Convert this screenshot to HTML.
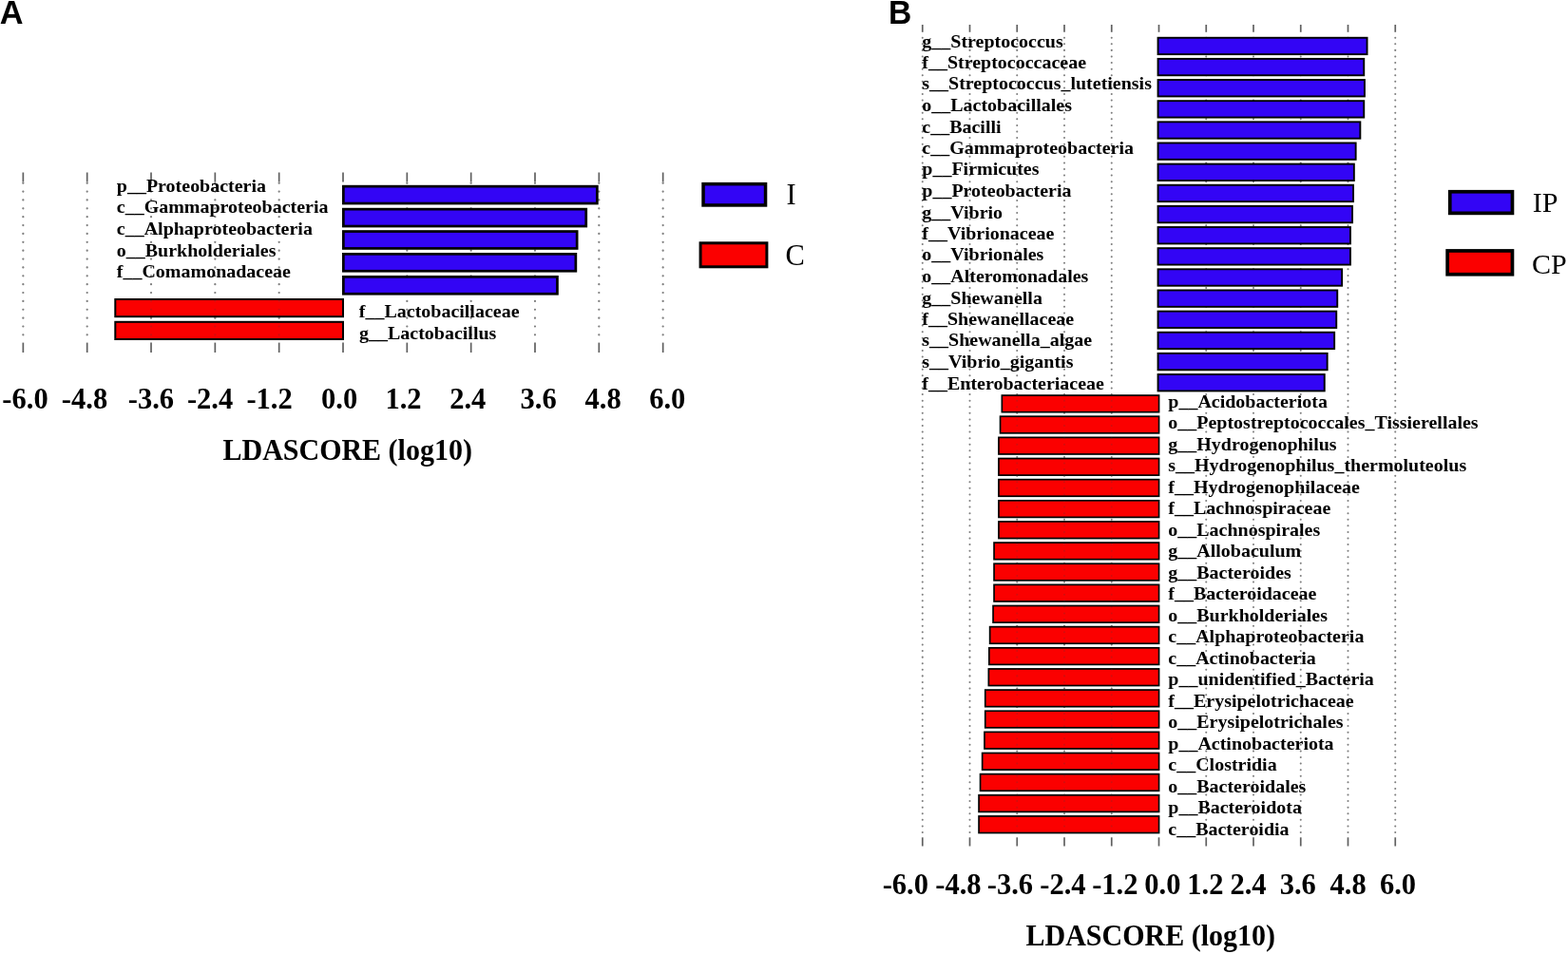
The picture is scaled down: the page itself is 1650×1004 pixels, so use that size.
<!DOCTYPE html>
<html lang="en">
<head>
<meta charset="utf-8">
<title>LEfSe LDA score</title>
<style>
html,body{margin:0;padding:0;background:#fff;}
body{width:1650px;height:1004px;overflow:hidden;font-family:"Liberation Serif",serif;}
svg{display:block;}
text{fill:#000;white-space:pre;}
</style>
</head>
<body>
<svg width="1650" height="1004" viewBox="0 0 1650 1004">
<rect x="0" y="0" width="1650" height="1004" fill="#ffffff"/>
<line x1="24.35" y1="181.5" x2="24.35" y2="191.5" stroke="#606060" stroke-width="1.7"/>
<line x1="24.35" y1="360.6" x2="24.35" y2="371.0" stroke="#606060" stroke-width="1.7"/>
<line x1="24.35" y1="192.70" x2="24.35" y2="359.6" stroke="#929292" stroke-width="2.2" stroke-linecap="round" stroke-dasharray="0.01 8.860"/>
<line x1="91.68" y1="181.5" x2="91.68" y2="191.5" stroke="#606060" stroke-width="1.7"/>
<line x1="91.68" y1="360.6" x2="91.68" y2="371.0" stroke="#606060" stroke-width="1.7"/>
<line x1="91.68" y1="192.70" x2="91.68" y2="359.6" stroke="#929292" stroke-width="2.2" stroke-linecap="round" stroke-dasharray="0.01 8.860"/>
<line x1="159.01" y1="181.5" x2="159.01" y2="191.5" stroke="#606060" stroke-width="1.7"/>
<line x1="159.01" y1="360.6" x2="159.01" y2="371.0" stroke="#606060" stroke-width="1.7"/>
<line x1="159.01" y1="192.70" x2="159.01" y2="359.6" stroke="#929292" stroke-width="2.2" stroke-linecap="round" stroke-dasharray="0.01 8.860"/>
<line x1="226.34" y1="181.5" x2="226.34" y2="191.5" stroke="#606060" stroke-width="1.7"/>
<line x1="226.34" y1="360.6" x2="226.34" y2="371.0" stroke="#606060" stroke-width="1.7"/>
<line x1="226.34" y1="192.70" x2="226.34" y2="359.6" stroke="#929292" stroke-width="2.2" stroke-linecap="round" stroke-dasharray="0.01 8.860"/>
<line x1="293.67" y1="181.5" x2="293.67" y2="191.5" stroke="#606060" stroke-width="1.7"/>
<line x1="293.67" y1="360.6" x2="293.67" y2="371.0" stroke="#606060" stroke-width="1.7"/>
<line x1="293.67" y1="192.70" x2="293.67" y2="359.6" stroke="#929292" stroke-width="2.2" stroke-linecap="round" stroke-dasharray="0.01 8.860"/>
<line x1="361.00" y1="181.5" x2="361.00" y2="191.5" stroke="#606060" stroke-width="1.7"/>
<line x1="361.00" y1="360.6" x2="361.00" y2="371.0" stroke="#606060" stroke-width="1.7"/>
<line x1="428.33" y1="181.5" x2="428.33" y2="191.5" stroke="#606060" stroke-width="1.7"/>
<line x1="428.33" y1="360.6" x2="428.33" y2="371.0" stroke="#606060" stroke-width="1.7"/>
<line x1="428.33" y1="192.70" x2="428.33" y2="359.6" stroke="#929292" stroke-width="2.2" stroke-linecap="round" stroke-dasharray="0.01 8.860"/>
<line x1="495.66" y1="181.5" x2="495.66" y2="191.5" stroke="#606060" stroke-width="1.7"/>
<line x1="495.66" y1="360.6" x2="495.66" y2="371.0" stroke="#606060" stroke-width="1.7"/>
<line x1="495.66" y1="192.70" x2="495.66" y2="359.6" stroke="#929292" stroke-width="2.2" stroke-linecap="round" stroke-dasharray="0.01 8.860"/>
<line x1="562.99" y1="181.5" x2="562.99" y2="191.5" stroke="#606060" stroke-width="1.7"/>
<line x1="562.99" y1="360.6" x2="562.99" y2="371.0" stroke="#606060" stroke-width="1.7"/>
<line x1="562.99" y1="192.70" x2="562.99" y2="359.6" stroke="#929292" stroke-width="2.2" stroke-linecap="round" stroke-dasharray="0.01 8.860"/>
<line x1="630.32" y1="181.5" x2="630.32" y2="191.5" stroke="#606060" stroke-width="1.7"/>
<line x1="630.32" y1="360.6" x2="630.32" y2="371.0" stroke="#606060" stroke-width="1.7"/>
<line x1="630.32" y1="192.70" x2="630.32" y2="359.6" stroke="#929292" stroke-width="2.2" stroke-linecap="round" stroke-dasharray="0.01 8.860"/>
<line x1="697.65" y1="181.5" x2="697.65" y2="191.5" stroke="#606060" stroke-width="1.7"/>
<line x1="697.65" y1="360.6" x2="697.65" y2="371.0" stroke="#606060" stroke-width="1.7"/>
<line x1="697.65" y1="192.70" x2="697.65" y2="359.6" stroke="#929292" stroke-width="2.2" stroke-linecap="round" stroke-dasharray="0.01 8.860"/>
<rect x="121.30" y="315.00" width="239.70" height="18.20" fill="#fb0000" stroke="#000" stroke-width="2.0"/>
<rect x="121.30" y="338.80" width="239.70" height="18.20" fill="#fb0000" stroke="#000" stroke-width="2.0"/>
<g opacity="0.22">
<line x1="24.35" y1="192.70" x2="24.35" y2="359.6" stroke="#404040" stroke-width="2.2" stroke-linecap="round" stroke-dasharray="0.01 8.860"/>
<line x1="91.68" y1="192.70" x2="91.68" y2="359.6" stroke="#404040" stroke-width="2.2" stroke-linecap="round" stroke-dasharray="0.01 8.860"/>
<line x1="159.01" y1="192.70" x2="159.01" y2="359.6" stroke="#404040" stroke-width="2.2" stroke-linecap="round" stroke-dasharray="0.01 8.860"/>
<line x1="226.34" y1="192.70" x2="226.34" y2="359.6" stroke="#404040" stroke-width="2.2" stroke-linecap="round" stroke-dasharray="0.01 8.860"/>
<line x1="293.67" y1="192.70" x2="293.67" y2="359.6" stroke="#404040" stroke-width="2.2" stroke-linecap="round" stroke-dasharray="0.01 8.860"/>
<line x1="428.33" y1="192.70" x2="428.33" y2="359.6" stroke="#404040" stroke-width="2.2" stroke-linecap="round" stroke-dasharray="0.01 8.860"/>
<line x1="495.66" y1="192.70" x2="495.66" y2="359.6" stroke="#404040" stroke-width="2.2" stroke-linecap="round" stroke-dasharray="0.01 8.860"/>
<line x1="562.99" y1="192.70" x2="562.99" y2="359.6" stroke="#404040" stroke-width="2.2" stroke-linecap="round" stroke-dasharray="0.01 8.860"/>
<line x1="630.32" y1="192.70" x2="630.32" y2="359.6" stroke="#404040" stroke-width="2.2" stroke-linecap="round" stroke-dasharray="0.01 8.860"/>
<line x1="697.65" y1="192.70" x2="697.65" y2="359.6" stroke="#404040" stroke-width="2.2" stroke-linecap="round" stroke-dasharray="0.01 8.860"/>
</g>
<rect x="361.35" y="196.15" width="267.00" height="17.90" fill="#3305f5" stroke="#000" stroke-width="2.7"/>
<rect x="361.35" y="220.15" width="255.40" height="17.90" fill="#3305f5" stroke="#000" stroke-width="2.7"/>
<rect x="361.35" y="243.55" width="245.80" height="17.90" fill="#3305f5" stroke="#000" stroke-width="2.7"/>
<rect x="361.35" y="267.35" width="244.50" height="17.90" fill="#3305f5" stroke="#000" stroke-width="2.7"/>
<rect x="361.35" y="291.35" width="225.10" height="17.90" fill="#3305f5" stroke="#000" stroke-width="2.7"/>
<text transform="translate(122.80,202.00) scale(1.0,0.93)" font-family="'Liberation Serif', serif" font-size="20" font-weight="bold" text-anchor="start">p__Proteobacteria</text>
<text transform="translate(122.80,224.30) scale(1.0,0.93)" font-family="'Liberation Serif', serif" font-size="20" font-weight="bold" text-anchor="start">c__Gammaproteobacteria</text>
<text transform="translate(122.80,246.80) scale(1.0,0.93)" font-family="'Liberation Serif', serif" font-size="20" font-weight="bold" text-anchor="start">c__Alphaproteobacteria</text>
<text transform="translate(122.80,269.50) scale(1.0,0.93)" font-family="'Liberation Serif', serif" font-size="20" font-weight="bold" text-anchor="start">o__Burkholderiales</text>
<text transform="translate(122.80,292.20) scale(1.0,0.93)" font-family="'Liberation Serif', serif" font-size="20" font-weight="bold" text-anchor="start">f__Comamonadaceae</text>
<text transform="translate(377.80,334.00) scale(1.0,0.93)" font-family="'Liberation Serif', serif" font-size="20" font-weight="bold" text-anchor="start">f__Lactobacillaceae</text>
<text transform="translate(378.00,356.50) scale(1.0,0.93)" font-family="'Liberation Serif', serif" font-size="20" font-weight="bold" text-anchor="start">g__Lactobacillus</text>
<text transform="translate(26.50,429.70) scale(0.985,1.0)" font-family="'Liberation Serif', serif" font-size="31" font-weight="bold" text-anchor="middle">-6.0</text>
<text transform="translate(89.00,429.70) scale(0.985,1.0)" font-family="'Liberation Serif', serif" font-size="31" font-weight="bold" text-anchor="middle">-4.8</text>
<text transform="translate(158.90,429.70) scale(0.985,1.0)" font-family="'Liberation Serif', serif" font-size="31" font-weight="bold" text-anchor="middle">-3.6</text>
<text transform="translate(221.10,429.70) scale(0.985,1.0)" font-family="'Liberation Serif', serif" font-size="31" font-weight="bold" text-anchor="middle">-2.4</text>
<text transform="translate(283.60,429.70) scale(0.985,1.0)" font-family="'Liberation Serif', serif" font-size="31" font-weight="bold" text-anchor="middle">-1.2</text>
<text transform="translate(357.15,429.70) scale(0.985,1.0)" font-family="'Liberation Serif', serif" font-size="31" font-weight="bold" text-anchor="middle">0.0</text>
<text transform="translate(424.50,429.70) scale(0.985,1.0)" font-family="'Liberation Serif', serif" font-size="31" font-weight="bold" text-anchor="middle">1.2</text>
<text transform="translate(492.20,429.70) scale(0.985,1.0)" font-family="'Liberation Serif', serif" font-size="31" font-weight="bold" text-anchor="middle">2.4</text>
<text transform="translate(566.65,429.70) scale(0.985,1.0)" font-family="'Liberation Serif', serif" font-size="31" font-weight="bold" text-anchor="middle">3.6</text>
<text transform="translate(634.60,429.70) scale(0.985,1.0)" font-family="'Liberation Serif', serif" font-size="31" font-weight="bold" text-anchor="middle">4.8</text>
<text transform="translate(702.20,429.70) scale(0.985,1.0)" font-family="'Liberation Serif', serif" font-size="31" font-weight="bold" text-anchor="middle">6.0</text>
<text transform="translate(365.70,484.00) scale(1.0,1.03)" font-family="'Liberation Serif', serif" font-size="30" font-weight="bold" text-anchor="middle">LDASCORE (log10)</text>
<rect x="740.05" y="193.65" width="65.50" height="22.30" fill="#3305f5" stroke="#000" stroke-width="3.5"/>
<rect x="737.10" y="255.80" width="69.80" height="25.00" fill="#fb0000" stroke="#000" stroke-width="3.0"/>
<text transform="translate(827.50,214.80)" font-family="'Liberation Serif', serif" font-size="30.5" font-weight="normal" text-anchor="start">I</text>
<text transform="translate(826.50,279.20)" font-family="'Liberation Serif', serif" font-size="30.5" font-weight="normal" text-anchor="start">C</text>
<text transform="translate(-0.20,24.90)" font-family="'Liberation Sans', serif" font-size="34.3" font-weight="bold" text-anchor="start">A</text>
<text transform="translate(934.90,25.00) scale(0.98,1.0)" font-family="'Liberation Sans', serif" font-size="34.3" font-weight="bold" text-anchor="start">B</text>
<line x1="970.75" y1="26.0" x2="970.75" y2="33.8" stroke="#606060" stroke-width="1.7"/>
<line x1="970.75" y1="881.3" x2="970.75" y2="890.5" stroke="#606060" stroke-width="1.7"/>
<line x1="970.75" y1="39.70" x2="970.75" y2="880.3" stroke="#929292" stroke-width="2.0" stroke-linecap="round" stroke-dasharray="0.01 6.575"/>
<line x1="1020.50" y1="26.0" x2="1020.50" y2="33.8" stroke="#606060" stroke-width="1.7"/>
<line x1="1020.50" y1="881.3" x2="1020.50" y2="890.5" stroke="#606060" stroke-width="1.7"/>
<line x1="1020.50" y1="39.70" x2="1020.50" y2="880.3" stroke="#929292" stroke-width="2.0" stroke-linecap="round" stroke-dasharray="0.01 6.575"/>
<line x1="1070.25" y1="26.0" x2="1070.25" y2="33.8" stroke="#606060" stroke-width="1.7"/>
<line x1="1070.25" y1="881.3" x2="1070.25" y2="890.5" stroke="#606060" stroke-width="1.7"/>
<line x1="1070.25" y1="39.70" x2="1070.25" y2="880.3" stroke="#929292" stroke-width="2.0" stroke-linecap="round" stroke-dasharray="0.01 6.575"/>
<line x1="1120.00" y1="26.0" x2="1120.00" y2="33.8" stroke="#606060" stroke-width="1.7"/>
<line x1="1120.00" y1="881.3" x2="1120.00" y2="890.5" stroke="#606060" stroke-width="1.7"/>
<line x1="1120.00" y1="39.70" x2="1120.00" y2="880.3" stroke="#929292" stroke-width="2.0" stroke-linecap="round" stroke-dasharray="0.01 6.575"/>
<line x1="1169.75" y1="26.0" x2="1169.75" y2="33.8" stroke="#606060" stroke-width="1.7"/>
<line x1="1169.75" y1="881.3" x2="1169.75" y2="890.5" stroke="#606060" stroke-width="1.7"/>
<line x1="1169.75" y1="39.70" x2="1169.75" y2="880.3" stroke="#929292" stroke-width="2.0" stroke-linecap="round" stroke-dasharray="0.01 6.575"/>
<line x1="1219.50" y1="26.0" x2="1219.50" y2="33.8" stroke="#606060" stroke-width="1.7"/>
<line x1="1219.50" y1="881.3" x2="1219.50" y2="890.5" stroke="#606060" stroke-width="1.7"/>
<line x1="1269.25" y1="26.0" x2="1269.25" y2="33.8" stroke="#606060" stroke-width="1.7"/>
<line x1="1269.25" y1="881.3" x2="1269.25" y2="890.5" stroke="#606060" stroke-width="1.7"/>
<line x1="1269.25" y1="39.70" x2="1269.25" y2="880.3" stroke="#929292" stroke-width="2.0" stroke-linecap="round" stroke-dasharray="0.01 6.575"/>
<line x1="1319.00" y1="26.0" x2="1319.00" y2="33.8" stroke="#606060" stroke-width="1.7"/>
<line x1="1319.00" y1="881.3" x2="1319.00" y2="890.5" stroke="#606060" stroke-width="1.7"/>
<line x1="1319.00" y1="39.70" x2="1319.00" y2="880.3" stroke="#929292" stroke-width="2.0" stroke-linecap="round" stroke-dasharray="0.01 6.575"/>
<line x1="1368.75" y1="26.0" x2="1368.75" y2="33.8" stroke="#606060" stroke-width="1.7"/>
<line x1="1368.75" y1="881.3" x2="1368.75" y2="890.5" stroke="#606060" stroke-width="1.7"/>
<line x1="1368.75" y1="39.70" x2="1368.75" y2="880.3" stroke="#929292" stroke-width="2.0" stroke-linecap="round" stroke-dasharray="0.01 6.575"/>
<line x1="1418.50" y1="26.0" x2="1418.50" y2="33.8" stroke="#606060" stroke-width="1.7"/>
<line x1="1418.50" y1="881.3" x2="1418.50" y2="890.5" stroke="#606060" stroke-width="1.7"/>
<line x1="1418.50" y1="39.70" x2="1418.50" y2="880.3" stroke="#929292" stroke-width="2.0" stroke-linecap="round" stroke-dasharray="0.01 6.575"/>
<line x1="1468.25" y1="26.0" x2="1468.25" y2="33.8" stroke="#606060" stroke-width="1.7"/>
<line x1="1468.25" y1="881.3" x2="1468.25" y2="890.5" stroke="#606060" stroke-width="1.7"/>
<line x1="1468.25" y1="39.70" x2="1468.25" y2="880.3" stroke="#929292" stroke-width="2.0" stroke-linecap="round" stroke-dasharray="0.01 6.575"/>
<rect x="1054.35" y="416.08" width="165.20" height="17.60" fill="#fb0000" stroke="#000" stroke-width="1.7"/>
<rect x="1052.55" y="438.22" width="167.00" height="17.60" fill="#fb0000" stroke="#000" stroke-width="1.7"/>
<rect x="1050.95" y="460.37" width="168.60" height="17.60" fill="#fb0000" stroke="#000" stroke-width="1.7"/>
<rect x="1050.95" y="482.51" width="168.60" height="17.60" fill="#fb0000" stroke="#000" stroke-width="1.7"/>
<rect x="1050.95" y="504.65" width="168.60" height="17.60" fill="#fb0000" stroke="#000" stroke-width="1.7"/>
<rect x="1050.95" y="526.80" width="168.60" height="17.60" fill="#fb0000" stroke="#000" stroke-width="1.7"/>
<rect x="1050.95" y="548.94" width="168.60" height="17.60" fill="#fb0000" stroke="#000" stroke-width="1.7"/>
<rect x="1046.05" y="571.08" width="173.50" height="17.60" fill="#fb0000" stroke="#000" stroke-width="1.7"/>
<rect x="1046.05" y="593.23" width="173.50" height="17.60" fill="#fb0000" stroke="#000" stroke-width="1.7"/>
<rect x="1046.05" y="615.37" width="173.50" height="17.60" fill="#fb0000" stroke="#000" stroke-width="1.7"/>
<rect x="1045.05" y="637.51" width="174.50" height="17.60" fill="#fb0000" stroke="#000" stroke-width="1.7"/>
<rect x="1041.65" y="659.65" width="177.90" height="17.60" fill="#fb0000" stroke="#000" stroke-width="1.7"/>
<rect x="1040.85" y="681.80" width="178.70" height="17.60" fill="#fb0000" stroke="#000" stroke-width="1.7"/>
<rect x="1040.35" y="703.94" width="179.20" height="17.60" fill="#fb0000" stroke="#000" stroke-width="1.7"/>
<rect x="1036.75" y="726.08" width="182.80" height="17.60" fill="#fb0000" stroke="#000" stroke-width="1.7"/>
<rect x="1036.75" y="748.23" width="182.80" height="17.60" fill="#fb0000" stroke="#000" stroke-width="1.7"/>
<rect x="1035.95" y="770.37" width="183.60" height="17.60" fill="#fb0000" stroke="#000" stroke-width="1.7"/>
<rect x="1033.65" y="792.51" width="185.90" height="17.60" fill="#fb0000" stroke="#000" stroke-width="1.7"/>
<rect x="1031.55" y="814.65" width="188.00" height="17.60" fill="#fb0000" stroke="#000" stroke-width="1.7"/>
<rect x="1030.05" y="836.80" width="189.50" height="17.60" fill="#fb0000" stroke="#000" stroke-width="1.7"/>
<rect x="1030.05" y="858.94" width="189.50" height="17.60" fill="#fb0000" stroke="#000" stroke-width="1.7"/>
<g opacity="0.22">
<line x1="970.75" y1="39.70" x2="970.75" y2="880.3" stroke="#404040" stroke-width="2.0" stroke-linecap="round" stroke-dasharray="0.01 6.575"/>
<line x1="1020.50" y1="39.70" x2="1020.50" y2="880.3" stroke="#404040" stroke-width="2.0" stroke-linecap="round" stroke-dasharray="0.01 6.575"/>
<line x1="1070.25" y1="39.70" x2="1070.25" y2="880.3" stroke="#404040" stroke-width="2.0" stroke-linecap="round" stroke-dasharray="0.01 6.575"/>
<line x1="1120.00" y1="39.70" x2="1120.00" y2="880.3" stroke="#404040" stroke-width="2.0" stroke-linecap="round" stroke-dasharray="0.01 6.575"/>
<line x1="1169.75" y1="39.70" x2="1169.75" y2="880.3" stroke="#404040" stroke-width="2.0" stroke-linecap="round" stroke-dasharray="0.01 6.575"/>
<line x1="1269.25" y1="39.70" x2="1269.25" y2="880.3" stroke="#404040" stroke-width="2.0" stroke-linecap="round" stroke-dasharray="0.01 6.575"/>
<line x1="1319.00" y1="39.70" x2="1319.00" y2="880.3" stroke="#404040" stroke-width="2.0" stroke-linecap="round" stroke-dasharray="0.01 6.575"/>
<line x1="1368.75" y1="39.70" x2="1368.75" y2="880.3" stroke="#404040" stroke-width="2.0" stroke-linecap="round" stroke-dasharray="0.01 6.575"/>
<line x1="1418.50" y1="39.70" x2="1418.50" y2="880.3" stroke="#404040" stroke-width="2.0" stroke-linecap="round" stroke-dasharray="0.01 6.575"/>
<line x1="1468.25" y1="39.70" x2="1468.25" y2="880.3" stroke="#404040" stroke-width="2.0" stroke-linecap="round" stroke-dasharray="0.01 6.575"/>
</g>
<rect x="1218.55" y="39.75" width="220.00" height="17.40" fill="#3305f5" stroke="#000" stroke-width="1.9"/>
<rect x="1218.55" y="61.89" width="216.70" height="17.40" fill="#3305f5" stroke="#000" stroke-width="1.9"/>
<rect x="1218.55" y="84.04" width="217.40" height="17.40" fill="#3305f5" stroke="#000" stroke-width="1.9"/>
<rect x="1218.55" y="106.18" width="216.70" height="17.40" fill="#3305f5" stroke="#000" stroke-width="1.9"/>
<rect x="1218.55" y="128.32" width="212.80" height="17.40" fill="#3305f5" stroke="#000" stroke-width="1.9"/>
<rect x="1218.55" y="150.46" width="208.10" height="17.40" fill="#3305f5" stroke="#000" stroke-width="1.9"/>
<rect x="1218.55" y="172.61" width="206.30" height="17.40" fill="#3305f5" stroke="#000" stroke-width="1.9"/>
<rect x="1218.55" y="194.75" width="205.50" height="17.40" fill="#3305f5" stroke="#000" stroke-width="1.9"/>
<rect x="1218.55" y="216.89" width="204.50" height="17.40" fill="#3305f5" stroke="#000" stroke-width="1.9"/>
<rect x="1218.55" y="239.04" width="202.40" height="17.40" fill="#3305f5" stroke="#000" stroke-width="1.9"/>
<rect x="1218.55" y="261.18" width="202.40" height="17.40" fill="#3305f5" stroke="#000" stroke-width="1.9"/>
<rect x="1218.55" y="283.32" width="193.60" height="17.40" fill="#3305f5" stroke="#000" stroke-width="1.9"/>
<rect x="1218.55" y="305.47" width="188.70" height="17.40" fill="#3305f5" stroke="#000" stroke-width="1.9"/>
<rect x="1218.55" y="327.61" width="187.70" height="17.40" fill="#3305f5" stroke="#000" stroke-width="1.9"/>
<rect x="1218.55" y="349.75" width="185.60" height="17.40" fill="#3305f5" stroke="#000" stroke-width="1.9"/>
<rect x="1218.55" y="371.89" width="178.10" height="17.40" fill="#3305f5" stroke="#000" stroke-width="1.9"/>
<rect x="1218.55" y="394.04" width="175.20" height="17.40" fill="#3305f5" stroke="#000" stroke-width="1.9"/>
<text transform="translate(970.30,49.50) scale(1.0,0.93)" font-family="'Liberation Serif', serif" font-size="20" font-weight="bold" text-anchor="start">g__Streptococcus</text>
<text transform="translate(970.30,72.00) scale(1.0,0.93)" font-family="'Liberation Serif', serif" font-size="20" font-weight="bold" text-anchor="start">f__Streptococcaceae</text>
<text transform="translate(970.30,94.10) scale(1.0,0.93)" font-family="'Liberation Serif', serif" font-size="20" font-weight="bold" text-anchor="start">s__Streptococcus_lutetiensis</text>
<text transform="translate(970.30,116.80) scale(1.0,0.93)" font-family="'Liberation Serif', serif" font-size="20" font-weight="bold" text-anchor="start">o__Lactobacillales</text>
<text transform="translate(970.30,139.50) scale(1.0,0.93)" font-family="'Liberation Serif', serif" font-size="20" font-weight="bold" text-anchor="start">c__Bacilli</text>
<text transform="translate(970.30,162.00) scale(1.0,0.93)" font-family="'Liberation Serif', serif" font-size="20" font-weight="bold" text-anchor="start">c__Gammaproteobacteria</text>
<text transform="translate(970.30,184.10) scale(1.0,0.93)" font-family="'Liberation Serif', serif" font-size="20" font-weight="bold" text-anchor="start">p__Firmicutes</text>
<text transform="translate(970.30,206.80) scale(1.0,0.93)" font-family="'Liberation Serif', serif" font-size="20" font-weight="bold" text-anchor="start">p__Proteobacteria</text>
<text transform="translate(970.30,229.50) scale(1.0,0.93)" font-family="'Liberation Serif', serif" font-size="20" font-weight="bold" text-anchor="start">g__Vibrio</text>
<text transform="translate(970.30,252.00) scale(1.0,0.93)" font-family="'Liberation Serif', serif" font-size="20" font-weight="bold" text-anchor="start">f__Vibrionaceae</text>
<text transform="translate(970.30,274.10) scale(1.0,0.93)" font-family="'Liberation Serif', serif" font-size="20" font-weight="bold" text-anchor="start">o__Vibrionales</text>
<text transform="translate(970.30,296.80) scale(1.0,0.93)" font-family="'Liberation Serif', serif" font-size="20" font-weight="bold" text-anchor="start">o__Alteromonadales</text>
<text transform="translate(970.30,319.50) scale(1.0,0.93)" font-family="'Liberation Serif', serif" font-size="20" font-weight="bold" text-anchor="start">g__Shewanella</text>
<text transform="translate(970.30,342.00) scale(1.0,0.93)" font-family="'Liberation Serif', serif" font-size="20" font-weight="bold" text-anchor="start">f__Shewanellaceae</text>
<text transform="translate(970.30,364.10) scale(1.0,0.93)" font-family="'Liberation Serif', serif" font-size="20" font-weight="bold" text-anchor="start">s__Shewanella_algae</text>
<text transform="translate(970.30,386.80) scale(1.0,0.93)" font-family="'Liberation Serif', serif" font-size="20" font-weight="bold" text-anchor="start">s__Vibrio_gigantis</text>
<text transform="translate(970.30,409.50) scale(1.0,0.93)" font-family="'Liberation Serif', serif" font-size="20" font-weight="bold" text-anchor="start">f__Enterobacteriaceae</text>
<text transform="translate(1229.30,428.50) scale(1.0,0.93)" font-family="'Liberation Serif', serif" font-size="20" font-weight="bold" text-anchor="start">p__Acidobacteriota</text>
<text transform="translate(1229.30,451.00) scale(1.0,0.93)" font-family="'Liberation Serif', serif" font-size="20" font-weight="bold" text-anchor="start">o__Peptostreptococcales_Tissierellales</text>
<text transform="translate(1229.30,473.60) scale(1.0,0.93)" font-family="'Liberation Serif', serif" font-size="20" font-weight="bold" text-anchor="start">g__Hydrogenophilus</text>
<text transform="translate(1229.30,496.20) scale(1.0,0.93)" font-family="'Liberation Serif', serif" font-size="20" font-weight="bold" text-anchor="start">s__Hydrogenophilus_thermoluteolus</text>
<text transform="translate(1229.30,518.50) scale(1.0,0.93)" font-family="'Liberation Serif', serif" font-size="20" font-weight="bold" text-anchor="start">f__Hydrogenophilaceae</text>
<text transform="translate(1229.30,541.00) scale(1.0,0.93)" font-family="'Liberation Serif', serif" font-size="20" font-weight="bold" text-anchor="start">f__Lachnospiraceae</text>
<text transform="translate(1229.30,563.60) scale(1.0,0.93)" font-family="'Liberation Serif', serif" font-size="20" font-weight="bold" text-anchor="start">o__Lachnospirales</text>
<text transform="translate(1229.30,586.20) scale(1.0,0.93)" font-family="'Liberation Serif', serif" font-size="20" font-weight="bold" text-anchor="start">g__Allobaculum</text>
<text transform="translate(1229.30,608.50) scale(1.0,0.93)" font-family="'Liberation Serif', serif" font-size="20" font-weight="bold" text-anchor="start">g__Bacteroides</text>
<text transform="translate(1229.30,631.00) scale(1.0,0.93)" font-family="'Liberation Serif', serif" font-size="20" font-weight="bold" text-anchor="start">f__Bacteroidaceae</text>
<text transform="translate(1229.30,653.60) scale(1.0,0.93)" font-family="'Liberation Serif', serif" font-size="20" font-weight="bold" text-anchor="start">o__Burkholderiales</text>
<text transform="translate(1229.30,676.20) scale(1.0,0.93)" font-family="'Liberation Serif', serif" font-size="20" font-weight="bold" text-anchor="start">c__Alphaproteobacteria</text>
<text transform="translate(1229.30,698.50) scale(1.0,0.93)" font-family="'Liberation Serif', serif" font-size="20" font-weight="bold" text-anchor="start">c__Actinobacteria</text>
<text transform="translate(1229.30,721.00) scale(1.0,0.93)" font-family="'Liberation Serif', serif" font-size="20" font-weight="bold" text-anchor="start">p__unidentified_Bacteria</text>
<text transform="translate(1229.30,743.60) scale(1.0,0.93)" font-family="'Liberation Serif', serif" font-size="20" font-weight="bold" text-anchor="start">f__Erysipelotrichaceae</text>
<text transform="translate(1229.30,766.20) scale(1.0,0.93)" font-family="'Liberation Serif', serif" font-size="20" font-weight="bold" text-anchor="start">o__Erysipelotrichales</text>
<text transform="translate(1229.30,788.50) scale(1.0,0.93)" font-family="'Liberation Serif', serif" font-size="20" font-weight="bold" text-anchor="start">p__Actinobacteriota</text>
<text transform="translate(1229.30,811.00) scale(1.0,0.93)" font-family="'Liberation Serif', serif" font-size="20" font-weight="bold" text-anchor="start">c__Clostridia</text>
<text transform="translate(1229.30,833.60) scale(1.0,0.93)" font-family="'Liberation Serif', serif" font-size="20" font-weight="bold" text-anchor="start">o__Bacteroidales</text>
<text transform="translate(1229.30,856.20) scale(1.0,0.93)" font-family="'Liberation Serif', serif" font-size="20" font-weight="bold" text-anchor="start">p__Bacteroidota</text>
<text transform="translate(1229.30,878.50) scale(1.0,0.93)" font-family="'Liberation Serif', serif" font-size="20" font-weight="bold" text-anchor="start">c__Bacteroidia</text>
<text transform="translate(952.80,941.20) scale(0.985,1.0)" font-family="'Liberation Serif', serif" font-size="31" font-weight="bold" text-anchor="middle">-6.0</text>
<text transform="translate(1008.45,941.20) scale(0.985,1.0)" font-family="'Liberation Serif', serif" font-size="31" font-weight="bold" text-anchor="middle">-4.8</text>
<text transform="translate(1062.90,941.20) scale(0.985,1.0)" font-family="'Liberation Serif', serif" font-size="31" font-weight="bold" text-anchor="middle">-3.6</text>
<text transform="translate(1118.40,941.20) scale(0.985,1.0)" font-family="'Liberation Serif', serif" font-size="31" font-weight="bold" text-anchor="middle">-2.4</text>
<text transform="translate(1173.35,941.20) scale(0.985,1.0)" font-family="'Liberation Serif', serif" font-size="31" font-weight="bold" text-anchor="middle">-1.2</text>
<text transform="translate(1223.35,941.20) scale(0.985,1.0)" font-family="'Liberation Serif', serif" font-size="31" font-weight="bold" text-anchor="middle">0.0</text>
<text transform="translate(1268.35,941.20) scale(0.985,1.0)" font-family="'Liberation Serif', serif" font-size="31" font-weight="bold" text-anchor="middle">1.2</text>
<text transform="translate(1313.50,941.20) scale(0.985,1.0)" font-family="'Liberation Serif', serif" font-size="31" font-weight="bold" text-anchor="middle">2.4</text>
<text transform="translate(1365.70,941.20) scale(0.985,1.0)" font-family="'Liberation Serif', serif" font-size="31" font-weight="bold" text-anchor="middle">3.6</text>
<text transform="translate(1418.65,941.20) scale(0.985,1.0)" font-family="'Liberation Serif', serif" font-size="31" font-weight="bold" text-anchor="middle">4.8</text>
<text transform="translate(1471.05,941.20) scale(0.985,1.0)" font-family="'Liberation Serif', serif" font-size="31" font-weight="bold" text-anchor="middle">6.0</text>
<text transform="translate(1210.75,995.20) scale(1.0,1.03)" font-family="'Liberation Serif', serif" font-size="30" font-weight="bold" text-anchor="middle">LDASCORE (log10)</text>
<rect x="1525.75" y="201.75" width="65.70" height="22.60" fill="#3305f5" stroke="#000" stroke-width="3.7"/>
<rect x="1523.15" y="263.95" width="68.30" height="24.80" fill="#fb0000" stroke="#000" stroke-width="3.7"/>
<text transform="translate(1612.70,222.90)" font-family="'Liberation Serif', serif" font-size="30" font-weight="normal" text-anchor="start">IP</text>
<text transform="translate(1611.90,287.90)" font-family="'Liberation Serif', serif" font-size="30" font-weight="normal" text-anchor="start">CP</text>
</svg>
</body>
</html>
